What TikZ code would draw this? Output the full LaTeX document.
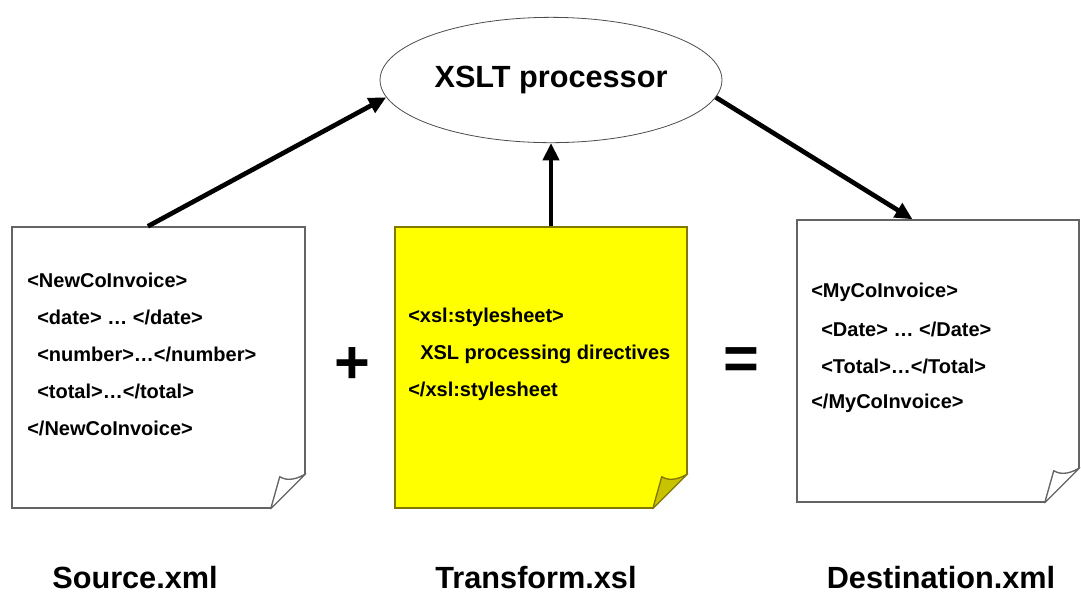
\documentclass[tikz,border=0pt]{standalone}
\usepackage{fontspec}
\setmainfont{Liberation Sans}
\usepackage{xcolor}
\usepackage{tikz}
\usetikzlibrary{calc}
\usetikzlibrary{fit}
\usetikzlibrary{arrows.meta}
\usetikzlibrary{shapes.geometric}
\definecolor{pageline}{RGB}{100,100,100}
\definecolor{notebg}{RGB}{255,255,0}
\definecolor{noteline}{RGB}{130,120,0}
\definecolor{notecurl}{RGB}{200,195,0}
\tikzset{
  myarrow/.style={
    draw=black,
    line width=3.5pt,
    -{Triangle[length=13pt,width=12pt]},
  },
  myellipse/.style={
    draw=black!70,
    shape=ellipse,
    line width=0.6pt,
    minimum width=243pt,
    minimum height=94pt,
    font=\fontsize{23}{27}\selectfont\bfseries
  },
  mypage/.style={
    draw=pageline,
    fill=white,
    line width=1.1pt,
    inner sep=0pt,
  },
  mynote/.style={
    mypage,
    draw=noteline,
    fill=notebg,
  },
  mycode/.style={
    anchor=west,
    inner sep=0pt,
    font=\fontsize{15}{18}\selectfont\bfseries
  },
  mylabel/.style={
    inner sep=0pt,
    font=\fontsize{23}{27}\selectfont\bfseries
  },
  mysign/.style={
    inner sep=0pt,
    font=\fontsize{46}{50}\selectfont\bfseries
  },
}
% folded corner at the bottom right of a page: node, fill, line colour
\newcommand{\pagecurl}[3]{%
  \begin{scope}[shift={(#1.south east)}]
    \fill[white] (2,2) -- (2,-37) -- (-37,2) -- cycle;
    \filldraw[fill=#2, draw=#3, line width=1pt, line join=round]
      (-35,0) -- (-26,-32) .. controls (-18,-27) and (-8,-30) .. (0,-35) -- cycle;
  \end{scope}
}

\begin{document}
\begin{tikzpicture}[x=0.75pt, y=-0.75pt]
    \useasboundingbox (0,0) rectangle (1081,594);

    \node[myellipse] (proc) at (551,80) {XSLT processor};

    % the three documents
    \node[mypage, fit={(12,227) (305,508)}] (src) {};
    \node[mynote, fit={(395,227) (687,508)}] (trf) {};
    \node[mypage, fit={(797,220) (1079,502)}] (dst) {};
    \pagecurl{src}{white}{pageline}
    \pagecurl{trf}{notecurl}{noteline}
    \pagecurl{dst}{white}{pageline}

    \node[mycode] (s1) at (27,280) {<NewCoInvoice>};
    \node[mycode] (s2) at (37,317) {<date> … </date>};
    \node[mycode] (s3) at (37,354) {<number>…</number>};
    \node[mycode] (s4) at (37,391) {<total>…</total>};
    \node[mycode] (s5) at (27,428) {</NewCoInvoice>};

    \node[mycode] (t1) at (408,317) {<xsl:stylesheet>};
    \node[mycode] (t2) at (420,354) {XSL processing directives};
    \node[mycode] (t3) at (408,391) {</xsl:stylesheet};

    \node[mycode] (d1) at (811,292) {<MyCoInvoice>};
    \node[mycode] (d2) at (821,329) {<Date> … </Date>};
    \node[mycode] (d3) at (821,366) {<Total>…</Total>};
    \node[mycode] (d4) at (811,403) {</MyCoInvoice>};

    \node[mysign] (plus) at (352,366) {+};
    \node[mysign] (eq) at (741,364) {=};

    \node[mylabel] (srcname) at (135,578) {Source.xml};
    \node[mylabel] (trfname) at (536,578) {Transform.xsl};
    \node[mylabel] (dstname) at (941,578) {Destination.xml};

    \draw[myarrow] ($(src.north west)!0.464!(src.north east)$) -- (proc.186);
    \draw[myarrow] (trf.north -| proc.south) -- (proc.south);
    \draw[myarrow] (proc.-6) -- ($(dst.north west)!0.41!(dst.north east)$);
\end{tikzpicture}
\end{document}
